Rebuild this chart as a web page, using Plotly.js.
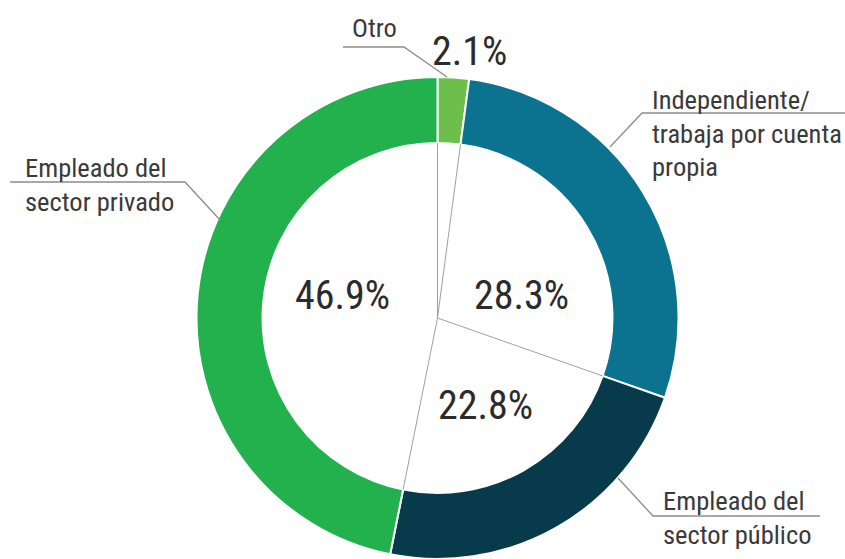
<!DOCTYPE html>
<html>
<head>
<meta charset="utf-8">
<script src="https://cdn.plot.ly/plotly-3.0.1.min.js"></script>
<style>
html,body{margin:0;padding:0;background:#fff;}
#chart{width:845px;height:559px;}
</style>
</head>
<body>
<div id="chart"></div>
<script>
// ---- data ----
const categories = ['Otro', 'Independiente/ trabaja por cuenta propia', 'Empleado del sector público', 'Empleado del sector privado'];
const values = [2.1, 28.3, 22.8, 46.9];
const pctLabels = ['2.1%', '28.3%', '22.8%', '46.9%'];
const labelLines = [
  ['Otro'],
  ['Independiente/', 'trabaja por cuenta', 'propia'],
  ['Empleado del', 'sector público'],
  ['Empleado del', 'sector privado']
];
const colors = ['#6dbf4b', '#0b7290', '#073b4c', '#23b14d'];

// ---- layout geometry (pixels) ----
const W = 845, H = 559;
const CX = 437.5, CY = 318, R = 241, HOLE = 0.726;
const X = px => px / W;
const Y = py => 1 - py / H;

// label placement: [left x, first baseline y]
const labelPos = [[350, 37], [650, 109], [661, 510], [23, 177]];
const lineGap = 33.5;
// percent label centres
const pctPos = [[470, 52], [521, 295], [485, 405], [342, 295]];
// leader lines
const leaders = [
  [[343, 47], [404, 47], [447, 77]],
  [[845, 113], [642, 113], [610, 147]],
  [[820, 516], [653, 516], [618, 478]],
  [[10, 182], [185, 182], [220, 220]]
];

const textColor = '#3a3a3a';
const FONT = '"Roboto Condensed", "DejaVu Sans Condensed", sans-serif';
const LABEL_SIZE = 26.5, PCT_SIZE = 40;

const annotations = [];
labelLines.forEach((lines, i) => {
  lines.forEach((t, j) => {
    const base = labelPos[i][1] + j * lineGap;
    annotations.push({
      xref: 'paper', yref: 'paper', x: X(labelPos[i][0]), y: Y(base - LABEL_SIZE * 0.35),
      xanchor: 'left', yanchor: 'middle', align: 'left', showarrow: false, text: t,
      font: {family: FONT, size: LABEL_SIZE, color: textColor}
    });
  });
});
pctLabels.forEach((t, i) => {
  annotations.push({
    xref: 'paper', yref: 'paper', x: X(pctPos[i][0]), y: Y(pctPos[i][1]),
    xanchor: 'center', yanchor: 'middle', align: 'center', showarrow: false, text: t,
    font: {family: FONT, size: PCT_SIZE, color: '#2b2b2b'}
  });
});

const shapes = [];
leaders.forEach(pts => {
  const d = pts.map((p, k) => (k ? 'L' : 'M') + X(p[0]) + ',' + Y(p[1])).join(' ');
  shapes.push({type: 'path', xref: 'paper', yref: 'paper', path: d, line: {color: '#8c8c8c', width: 1.3}});
});
// radial lines inside the hole at slice boundaries
const total = values.reduce((a, b) => a + b, 0);
let acc = 0;
const boundaries = [0];
values.slice(0, -1).forEach(v => { acc += v; boundaries.push(acc); });
boundaries.forEach(b => {
  const a = b / total * 2 * Math.PI;
  const rIn = R * HOLE;
  shapes.push({
    type: 'line', xref: 'paper', yref: 'paper',
    x0: X(CX), y0: Y(CY),
    x1: X(CX + rIn * Math.sin(a)), y1: Y(CY - rIn * Math.cos(a)),
    line: {color: '#a0a0a0', width: 1}
  });
});

const trace = {
  type: 'pie', values: values, labels: categories, sort: false,
  direction: 'clockwise', rotation: 0, hole: HOLE,
  textinfo: 'none', hoverinfo: 'none', showlegend: false,
  marker: {colors: colors, line: {color: '#ffffff', width: 2}},
  domain: {x: [X(CX - R), X(CX + R)], y: [Y(CY + R), Y(CY - R)]}
};

const layout = {
  width: W, height: H, margin: {l: 0, r: 0, t: 0, b: 0},
  paper_bgcolor: '#ffffff', showlegend: false,
  shapes: shapes, annotations: annotations
};

Plotly.newPlot('chart', [trace], layout, {staticPlot: true});
</script>
</body>
</html>
